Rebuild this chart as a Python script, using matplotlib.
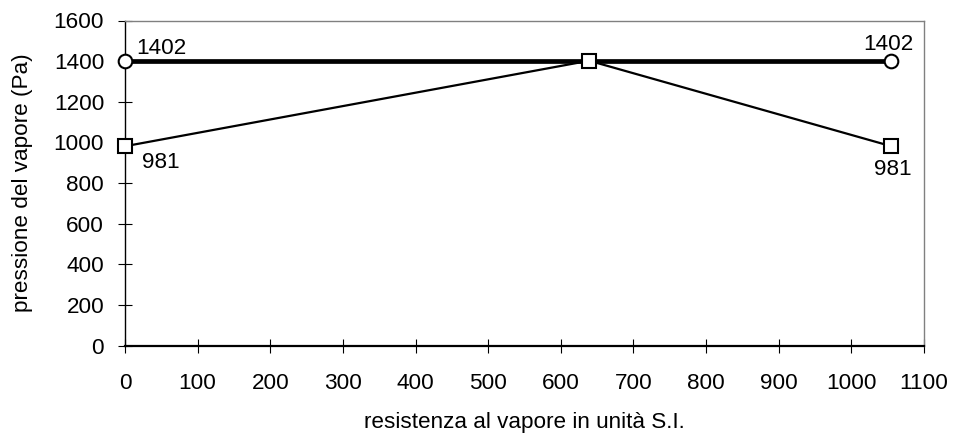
import matplotlib
matplotlib.use("Agg")
import matplotlib.pyplot as plt

plt.rcParams['font.family'] = ['Liberation Sans', 'DejaVu Sans']

sat_x = [0, 1055]
sat_y = [1402, 1402]
vap_x = [0, 639, 1055]
vap_y = [981, 1402, 981]
xticks = list(range(0, 1101, 100))
yticks = list(range(0, 1601, 200))

fig = plt.figure(figsize=(9.54, 4.34), dpi=100)
ax = fig.add_axes([125 / 954, 1 - 345.5 / 434, 799 / 954, 325 / 434])

ax.plot(sat_x, sat_y, color='black', lw=3.4, marker='o', ms=9.8,
        mfc='white', mec='black', mew=1.5, zorder=3, clip_on=False)
ax.plot(vap_x, vap_y, color='black', lw=1.6, marker='s', ms=9.8,
        mfc='white', mec='black', mew=1.5, zorder=4, clip_on=False)

fs = 16.2
ax.annotate(str(sat_y[0]), (sat_x[0], sat_y[0]), xytext=(8, 4.8), textcoords='offset points',
            ha='left', va='baseline', fontsize=fs)
ax.annotate(str(sat_y[1]), (sat_x[1], sat_y[1]), xytext=(-2.3, 7.9), textcoords='offset points',
            ha='center', va='baseline', fontsize=fs)
ax.annotate(str(vap_y[0]), (vap_x[0], vap_y[0]), xytext=(12, -15.5), textcoords='offset points',
            ha='left', va='baseline', fontsize=fs)
ax.annotate(str(vap_y[2]), (vap_x[2], vap_y[2]), xytext=(1.3, -20.4), textcoords='offset points',
            ha='center', va='baseline', fontsize=fs)

ax.set_xlim(0, 1100)
ax.set_ylim(0, 1600)
ax.set_xticks(xticks)
ax.set_yticks(yticks)
ax.tick_params(axis='both', direction='inout', length=10, width=0.8, labelsize=fs)
ax.tick_params(axis='x', pad=14.5)
ax.tick_params(axis='y', pad=10)
for s in ['top', 'right']:
    ax.spines[s].set_color('#808080')
    ax.spines[s].set_linewidth(1.0)
for s in ['left', 'bottom']:
    ax.spines[s].set_color('black')
    ax.spines[s].set_linewidth(1.0)
ax.spines['bottom'].set_linewidth(1.6)

ax.set_xlabel('resistenza al vapore in unità S.I.', fontsize=fs)
ax.xaxis.set_label_coords(0.5, -0.205)
ax.set_ylabel('pressione del vapore (Pa)', fontsize=fs)
ax.yaxis.set_label_coords(-0.1151, 0.5)

fig.savefig('out.png', dpi=100)
